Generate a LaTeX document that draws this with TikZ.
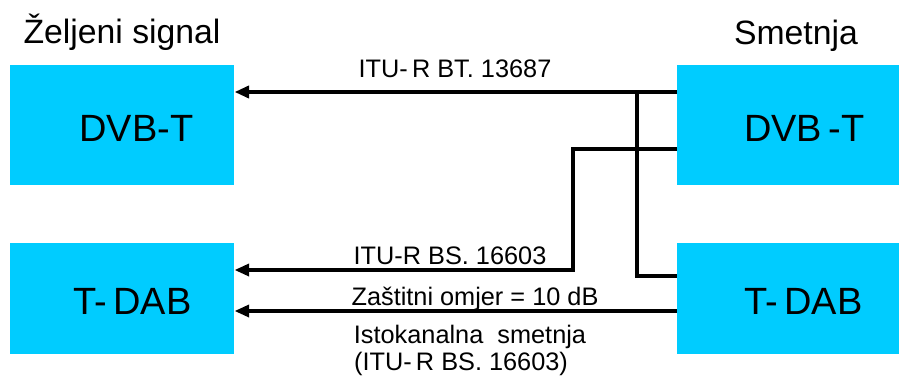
\documentclass[tikz,border=0pt]{standalone}
\usepackage{fontspec}
\setmainfont{Liberation Sans}
\usetikzlibrary{arrows.meta,positioning,calc}
\definecolor{BoxCyan}{RGB}{0,204,255}

\begin{document}
\begin{tikzpicture}[x=0.025cm,y=-0.025cm,
  box/.style={fill=BoxCyan,minimum width=5.6cm,anchor=north west,inner sep=0pt},
  boxtxt/.style={font=\fontsize{27}{30}\selectfont},
  headtxt/.style={font=\fontsize{24}{28}\selectfont,anchor=base},
  lbl/.style={font=\fontsize{18}{21}\selectfont,anchor=base},
  thickln/.style={line width=3.5pt},
  thinln/.style={line width=2.3pt},
  tipend/.style={-{Triangle[length=3.6mm,width=3mm]}}]
  \useasboundingbox (0,0) rectangle (899,376);
  % blocks
  \node[box,minimum height=3cm] (wdvb) at (10,65) {};
  \node[box,minimum height=2.775cm] (wdab) at (10,243) {};
  \node[box,minimum width=5.55cm,minimum height=3cm] (sdvb) at (677,65) {};
  \node[box,minimum width=5.55cm,minimum height=2.775cm] (sdab) at (677,243) {};
  \node[boxtxt] (wdvbtxt) at ($(wdvb.center)+(14,3)$) {DVB-T};
  \node[boxtxt] (wdabtxt) at ($(wdab.center)+(10,3)$) {T-\,DAB};
  \node[boxtxt] (sdvbtxt) at ($(sdvb.center)+(16,3)$) {DVB\,-T};
  \node[boxtxt] (sdabtxt) at ($(sdab.center)+(15,3)$) {T-\,DAB};
  \node[headtxt] (wanted) at (122,43) {Željeni signal};
  \node[headtxt] (interf) at (796,44) {Smetnja};
  % connectors
  \coordinate (jn) at (637,92);
  \coordinate (bend) at (573,270);
  \draw[thickln,tipend] ($(sdvb.north west)+(0,27)$) -- ($(wdvb.north east)+(0,27)$);
  \draw[thickln] (jn) |- ($(sdab.north west)+(0,33)$);
  \draw[thinln,tipend] ($(sdvb.north west)+(0,84)$) -| (bend) -- ($(wdab.north east)+(0,27)$);
  \draw[thinln,tipend] ($(sdab.north west)+(0,68)$) -- ($(wdab.north east)+(0,68)$);
  % labels
  \node[lbl] (bt) at (455,77) {ITU-\,R BT. 13687};
  \node[lbl] (bs) at (450,264) {ITU-R BS. 16603};
  \node[lbl] (ratio) at (475,305) {Zaštitni omjer = 10 dB};
  \node[lbl] (cochan) at (470,343) {Istokanalna\ \ smetnja};
  \node[lbl] (cochanref) at (461,370) {(ITU-\,R BS. 16603)};
\end{tikzpicture}
\end{document}
